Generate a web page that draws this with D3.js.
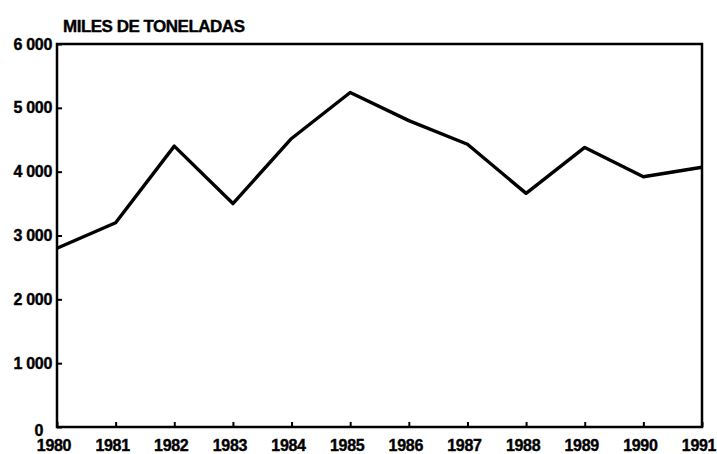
<!DOCTYPE html>
<html><head><meta charset="utf-8">
<script src="https://cdn.jsdelivr.net/npm/d3@7"></script>
<style>
body{margin:0;background:#fff;}
text{font-family:"Liberation Sans",Arial,sans-serif;font-weight:bold;fill:#000;stroke:#000;stroke-width:0.4;}
</style></head>
<body><svg id="c" width="717" height="454"></svg>
<script>
const years = [1980,1981,1982,1983,1984,1985,1986,1987,1988,1989,1990,1991];
const values = [2800,3200,4400,3500,4520,5240,4800,4430,3660,4380,3920,4070];
const yTicks = [0,1000,2000,3000,4000,5000,6000];
const title = "MILES DE TONELADAS";

const svg = d3.select("#c");
const x = d3.scaleLinear().domain([1980,1991]).range([57,702]);
const y = d3.scaleLinear().domain([0,6000]).range([427,44]);
const fmt = v => v===0 ? "0" : d3.format(",")(v).replace(",", " ");

// frame
svg.append("rect").attr("x",x(1980)).attr("y",y(6000))
  .attr("width",x(1991)-x(1980)).attr("height",y(0)-y(6000))
  .attr("fill","none").attr("stroke","#000").attr("stroke-width",2.5);

// y axis (ticks inward)
const ya = svg.append("g").attr("transform",`translate(${x(1980)},0)`)
  .call(d3.axisRight(y).tickValues(yTicks).tickSize(5).tickFormat(""));
ya.select(".domain").remove();
ya.selectAll("line").attr("stroke","#000").attr("stroke-width",2);
svg.append("g").selectAll("text").data(yTicks).join("text")
  .attr("x",d=> d===0 ? 43 : 52).attr("y",d=>y(d)+ (d===0?3:0)).attr("dy","0.35em")
  .attr("text-anchor","end").attr("font-size",16).attr("letter-spacing","-0.3")
  .text(fmt);

// x axis (ticks inward)
const xa = svg.append("g").attr("transform",`translate(0,${y(0)})`)
  .call(d3.axisTop(x).tickValues(years).tickSize(5).tickFormat(""));
xa.select(".domain").remove();
xa.selectAll("line").attr("stroke","#000").attr("stroke-width",2);
svg.append("g").selectAll("text").data(years).join("text")
  .attr("x",d=>x(d)-3).attr("y",451)
  .attr("text-anchor","middle").attr("font-size",16).attr("letter-spacing","-0.3")
  .text(d=>d);

// title
svg.append("text").attr("x",63).attr("y",32).attr("font-size",17)
  .attr("letter-spacing","-0.5").text(title);

// line
svg.append("path").datum(years.map((d,i)=>[d,values[i]]))
  .attr("d", d3.line().x(d=>x(d[0])).y(d=>y(d[1])))
  .attr("fill","none").attr("stroke","#000").attr("stroke-width",3.4)
  .attr("stroke-linejoin","round");
</script></body></html>
